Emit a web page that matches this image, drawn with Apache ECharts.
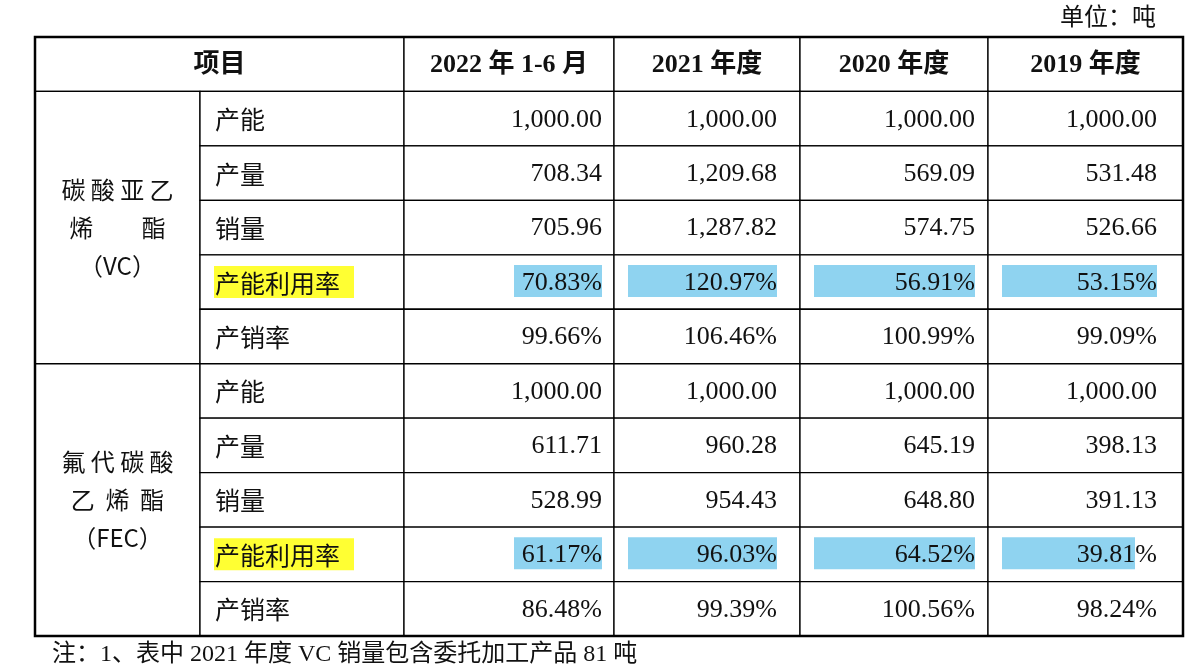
<!DOCTYPE html>
<html lang="zh">
<head>
<meta charset="UTF-8">
<title>产能利用率</title>
<script src="https://cdn.jsdelivr.net/npm/echarts@6/dist/echarts.min.js"></script>
<style>body{margin:0;background:#fff}</style>
</head>
<body>
<div id="main" style="width:1204px;height:670px;"></div>
<script>
var headers = ['项目', '2022 年 1-6 月', '2021 年度', '2020 年度', '2019 年度'];
var groups = [['碳 酸 亚 乙', '烯         酯', '（VC）'], ['氟 代 碳 酸', '乙  烯  酯', '（FEC）']];
var items = ['产能', '产量', '销量', '产能利用率', '产销率'];
var vcValues = [
    ['1,000.00', '1,000.00', '1,000.00', '1,000.00'],
    ['708.34', '1,209.68', '569.09', '531.48'],
    ['705.96', '1,287.82', '574.75', '526.66'],
    ['70.83%', '120.97%', '56.91%', '53.15%'],
    ['99.66%', '106.46%', '100.99%', '99.09%']
];
var fecValues = [
    ['1,000.00', '1,000.00', '1,000.00', '1,000.00'],
    ['611.71', '960.28', '645.19', '398.13'],
    ['528.99', '954.43', '648.80', '391.13'],
    ['61.17%', '96.03%', '64.52%', '39.81%'],
    ['86.48%', '99.39%', '100.56%', '98.24%']
];
var unitText = '单位：吨';
var noteText = '注：1、表中 2021 年度 VC 销量包含委托加工产品 81 吨';

// column edges in table units (x axis), rows are 1 unit each (y axis)
var colEdges = [0, 165, 369, 579, 765, 953, 1148];
var rightPad = [12, 23, 13, 26];
var serif = '"Liberation Serif", "Noto Sans CJK SC", serif';
var cjk = '"Noto Sans CJK SC", sans-serif';

var cells = [];
cells.push({x0: 0, x1: 2, r: 0, text: headers[0], align: 'center', bold: true});
for (var i = 1; i < headers.length; i++) {
    cells.push({x0: i + 1, x1: i + 2, r: 0, text: headers[i], align: 'center', bold: true});
}
[vcValues, fecValues].forEach(function (vals, g) {
    var base = 1 + g * 5;
    cells.push({x0: 0, x1: 1, r: base, rows: 5, lines: groups[g]});
    items.forEach(function (name, k) {
        var r = base + k;
        cells.push({x0: 1, x1: 2, r: r, text: name, align: 'left', hl: k === 3 ? 'yellow' : null});
        vals[k].forEach(function (v, c) {
            cells.push({x0: c + 2, x1: c + 3, r: r, text: v, align: 'right', col: c, hl: k === 3 ? 'blue' : null});
        });
    });
});

function renderCell(params, api) {
    var cell = cells[params.dataIndex];
    var rows = cell.rows || 1;
    var p0 = api.coord([colEdges[cell.x0], cell.r]);
    var p1 = api.coord([colEdges[cell.x1], cell.r + rows]);
    var x = p0[0], y = p0[1], w = p1[0] - p0[0], h = p1[1] - p0[1];
    var children = [{
        type: 'rect', shape: {x: x, y: y, width: w, height: h},
        style: {fill: '#fff', stroke: '#000', lineWidth: 1.3}
    }];
    var cy = y + h / 2;
    if (cell.lines) {
        cell.lines.forEach(function (t, i) {
            children.push({type: 'text', style: {text: t, x: x + w / 2, y: cy + (i - 1) * 38,
                align: 'center', verticalAlign: 'middle', font: '24px ' + cjk, fill: '#111'}});
        });
        return {type: 'group', children: children};
    }
    var isCjk = cell.align === 'left';
    var font = cell.bold ? 'bold 26px ' + serif : (isCjk ? '25px ' + cjk : '26px ' + serif);
    var pad = cell.col != null ? rightPad[cell.col] : 13;
    var tx = cell.align === 'center' ? x + w / 2 : cell.align === 'left' ? x + 15 : x + w - pad;
    if (cell.hl === 'yellow') {
        children.push({type: 'rect', shape: {x: x + 14, y: cy - 16, width: 140, height: 32}, style: {fill: '#ffff33'}});
    }
    if (cell.hl === 'blue') {
        var last = cell.col === 3 && cell.r > 5;
        var left = cell.col === 0 ? x + w - 100 : x + 14;
        var right = x + w - pad - (last ? 22 : 0);
        children.push({type: 'rect', shape: {x: left, y: cy - 17, width: right - left, height: 32}, style: {fill: '#8fd3f0'}});
    }
    children.push({type: 'text', style: {text: cell.text, x: tx, y: cy + 1, align: cell.align,
        verticalAlign: 'middle', font: font, fill: '#111'}});
    return {type: 'group', children: children};
}

var chart = echarts.init(document.getElementById('main'));
chart.setOption({
    animation: false,
    backgroundColor: '#fff',
    grid: {left: 35, top: 37, width: 1148, height: 599},
    xAxis: {type: 'value', min: 0, max: 1148, show: false},
    yAxis: {type: 'value', min: 0, max: 11, inverse: true, show: false},
    graphic: [
        {type: 'text', right: 48, top: 4, style: {text: unitText, font: '24px ' + cjk, fill: '#111'}},
        {type: 'text', left: 52, top: 643, style: {text: noteText, font: '24px ' + serif, fill: '#111'}},
        {type: 'rect', shape: {x: 35, y: 37, width: 1148, height: 599}, style: {fill: 'none', stroke: '#000', lineWidth: 2.5}, z: 100}
    ],
    series: [{
        type: 'custom',
        renderItem: renderCell,
        data: cells.map(function (c, i) { return [i]; }),
        clip: false
    }]
});
</script>
</body>
</html>
